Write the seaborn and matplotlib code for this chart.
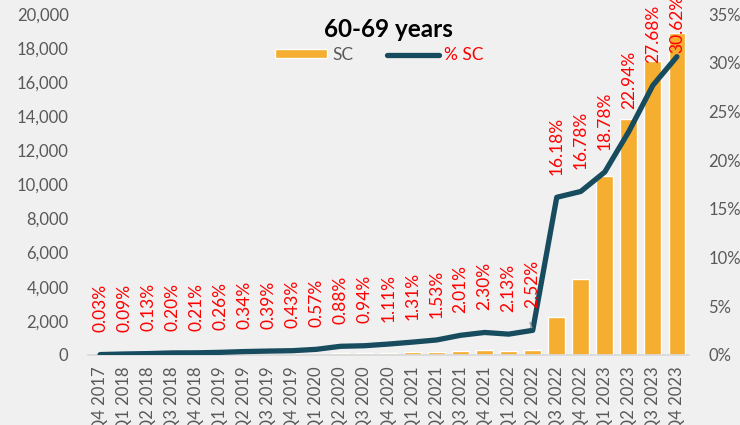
import numpy as np
import pandas as pd
import matplotlib
matplotlib.use('Agg')
import matplotlib.pyplot as plt
import seaborn as sns
from matplotlib.ticker import FuncFormatter

quarters = ['Q4 2017',
            'Q1 2018', 'Q2 2018', 'Q3 2018', 'Q4 2018',
            'Q1 2019', 'Q2 2019', 'Q3 2019', 'Q4 2019',
            'Q1 2020', 'Q2 2020', 'Q3 2020', 'Q4 2020',
            'Q1 2021', 'Q2 2021', 'Q3 2021', 'Q4 2021',
            'Q1 2022', 'Q2 2022', 'Q3 2022', 'Q4 2022',
            'Q1 2023', 'Q2 2023', 'Q3 2023', 'Q4 2023']
sc = [5, 10, 15, 25, 25, 30, 40, 45, 50, 65, 100, 110, 130, 150, 175,
      230, 265, 250, 290, 2200, 4450, 10500, 13850, 17250, 18900]
pct_sc = [0.03, 0.09, 0.13, 0.20, 0.21, 0.26, 0.34, 0.39, 0.43, 0.57, 0.88,
          0.94, 1.11, 1.31, 1.53, 2.01, 2.30, 2.13, 2.52, 16.18, 16.78,
          18.78, 22.94, 27.68, 30.62]

df = pd.DataFrame({'quarter': quarters, 'sc': sc, 'pct': pct_sc})
df['pos'] = np.arange(len(df))

sns.set_theme(style='white')
plt.rcParams['font.family'] = ['Lato', 'DejaVu Sans']

bg = '#f0f0f0'
bar_col = '#f5ae2f'
line_col = '#174b5e'
grey = '#595959'

fig = plt.figure(figsize=(7.4, 4.25), dpi=100, facecolor=bg)
ax = fig.add_axes([0.119, 0.165, 0.812, 0.802])
ax.set_facecolor(bg)

sns.barplot(data=df, x='quarter', y='sc', color=bar_col, width=0.7,
            saturation=1, ax=ax, label='SC')
ax.set_ylim(0, 20000)
ax.set_xlim(-0.5, len(df) - 0.5)
ax.set_yticks(np.arange(0, 20001, 2000))
ax.yaxis.set_major_formatter(FuncFormatter(lambda v, p: f'{int(v):,}'))
ax.set_xlabel('')
ax.set_ylabel('')
ax.tick_params(axis='y', labelsize=12, labelcolor=grey, length=0, pad=14)
ax.tick_params(axis='x', labelsize=12, labelcolor=grey, length=0, pad=8,
               rotation=90)

ax2 = ax.twinx()
sns.lineplot(data=df, x='pos', y='pct', color=line_col, linewidth=3.8,
             ax=ax2, label='% SC', solid_capstyle='round')
ax2.set_ylim(0, 35)
ax2.set_yticks(np.arange(0, 36, 5))
ax2.yaxis.set_major_formatter(FuncFormatter(lambda v, p: f'{int(v)}%'))
ax2.set_ylabel('')
ax2.tick_params(axis='y', labelsize=12, labelcolor=grey, length=0, pad=14)

for spine in ['top', 'left', 'right']:
    ax.spines[spine].set_visible(False)
    ax2.spines[spine].set_visible(False)
ax.spines['bottom'].set_color('#d9d9d9')
ax2.spines['bottom'].set_visible(False)

for i, v in enumerate(pct_sc):
    off = 3 if i == len(pct_sc) - 1 else 16
    ax2.annotate(f'{v:.2f}%', xy=(i, v), xytext=(0, off),
                 textcoords='offset points', rotation=90, ha='center',
                 va='bottom', color='red', fontsize=12.5,
                 annotation_clip=False)

# small grey leader line at the 2.52% label
ax2.annotate('', xy=(18, 2.52), xytext=(17.85, 3.6),
             arrowprops=dict(arrowstyle='-', color='#a0a0a0', lw=1))

ax.text(0.5, 0.988, '60-69 years', transform=ax.transAxes, ha='center',
        va='top', fontsize=17.5, fontweight='bold', color='black')

h1, l1 = ax.get_legend_handles_labels()
h2, l2 = ax2.get_legend_handles_labels()
if ax2.get_legend():
    ax2.get_legend().remove()
if ax.get_legend():
    ax.get_legend().remove()
leg = ax2.legend(h1 + h2, l1 + l2, loc='center', bbox_to_anchor=(0.485, 0.88),
                 ncol=2, frameon=False, fontsize=12.5, handlelength=3.0,
                 handleheight=0.45, columnspacing=1.9, handletextpad=0.3)
leg.get_texts()[0].set_color(grey)
leg.get_texts()[1].set_color('red')

fig.savefig('out.png', dpi=100, facecolor=bg)
